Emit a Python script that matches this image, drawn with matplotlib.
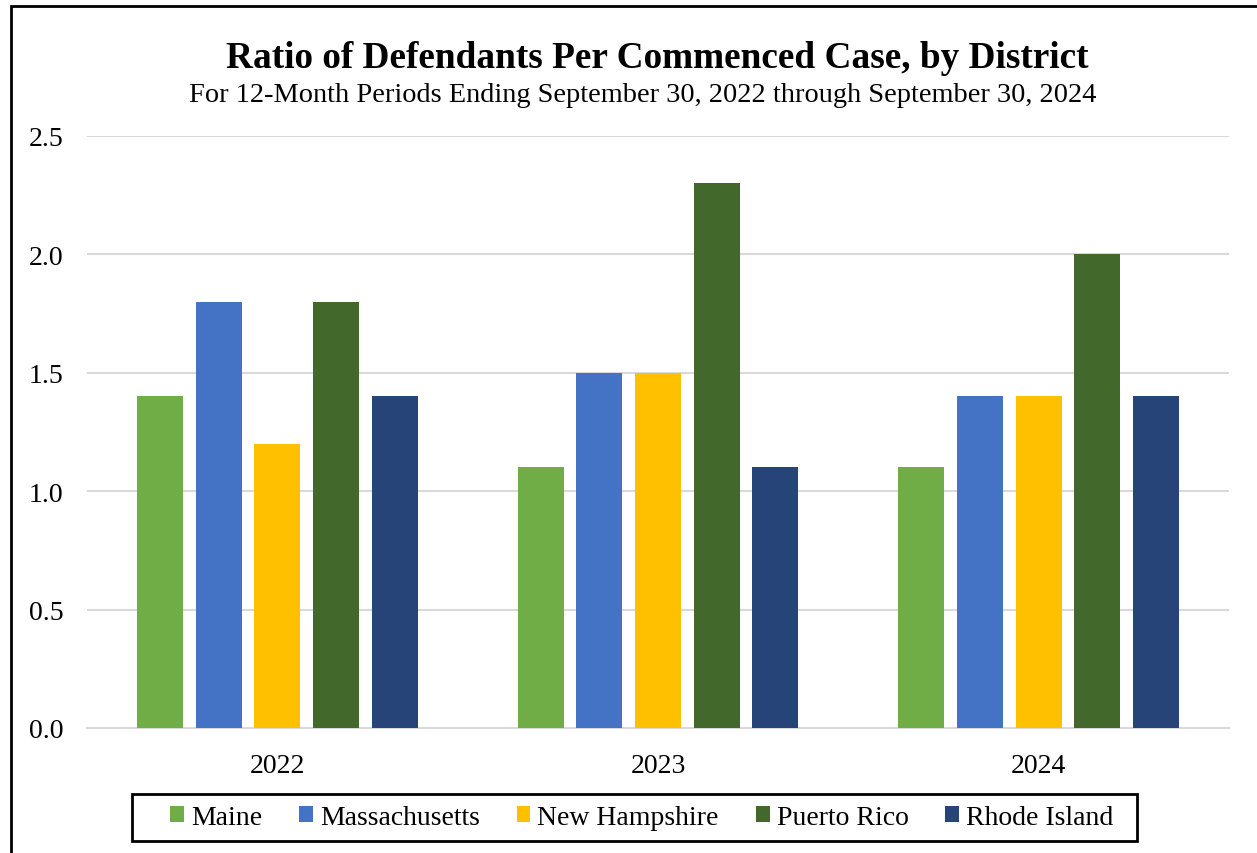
import numpy as np
import matplotlib.pyplot as plt
from matplotlib.patches import Rectangle

years = ['2022', '2023', '2024']
districts = ['Maine', 'Massachusetts', 'New Hampshire', 'Puerto Rico', 'Rhode Island']
maine = [1.4, 1.1, 1.1]
massachusetts = [1.8, 1.5, 1.4]
new_hampshire = [1.2, 1.5, 1.4]
puerto_rico = [1.8, 2.3, 2.0]
rhode_island = [1.4, 1.1, 1.4]
colors = ['#70AD47', '#4472C4', '#FFC000', '#43682B', '#264478']

series = [maine, massachusetts, new_hampshire, puerto_rico, rhode_island]

plt.rcParams['font.family'] = ['Liberation Serif', 'DejaVu Serif']

fig = plt.figure(figsize=(12.57, 8.54), dpi=100)
ax = fig.add_axes([0.0692, 0.1464, 0.9085, 0.6932])

x = np.arange(len(years))
width = 0.121
step = 0.154
for i, (vals, name, c) in enumerate(zip(series, districts, colors)):
    ax.bar(x + (i - 2) * step, vals, width, color=c, label=name, zorder=3)

ax.set_xlim(-0.5, 2.5)
ax.set_ylim(0, 2.5)
ax.set_yticks(np.arange(0, 2.51, 0.5))
ax.set_yticklabels([f'{v:.1f}' for v in np.arange(0, 2.51, 0.5)])
ax.set_xticks(x)
ax.set_xticklabels(years)
ax.tick_params(axis='both', length=0, labelsize=20)
ax.tick_params(axis='y', pad=17)
ax.tick_params(axis='x', pad=18)
ax.yaxis.grid(True, color='#D9D9D9', linewidth=1.5, zorder=0)
for s in ['top', 'right', 'left']:
    ax.spines[s].set_visible(False)
ax.spines['bottom'].set_color('#D9D9D9')
ax.spines['bottom'].set_linewidth(1.5)

fig.text(0.5232, 1 - 58 / 854, 'Ratio of Defendants Per Commenced Case, by District',
         ha='center', va='center', fontsize=26.8, fontweight='bold')
fig.text(0.5115, 1 - 96 / 854, 'For 12-Month Periods Ending September 30, 2022 through September 30, 2024',
         ha='center', va='center', fontsize=20.4)

# legend without its own frame; the box is drawn separately to match the padding
leg = fig.legend(loc='center', bbox_to_anchor=(0.5105, 1 - 818.5 / 854), ncol=5,
                 fontsize=20, frameon=False,
                 handlelength=0.5, handleheight=0.5, handletextpad=0.25,
                 columnspacing=1.33, borderpad=0.2)
fig.add_artist(Rectangle((132 / 1257, 1 - 842 / 854), 1005 / 1257, 47 / 854,
                         transform=fig.transFigure, fill=False,
                         edgecolor='black', linewidth=2))

fig.add_artist(Rectangle((11 / 1257, -0.01), 1.0, 1 - 7 / 854 + 0.01, transform=fig.transFigure,
                         fill=False, edgecolor='black', linewidth=2))

fig.savefig('out.png', dpi=100)
